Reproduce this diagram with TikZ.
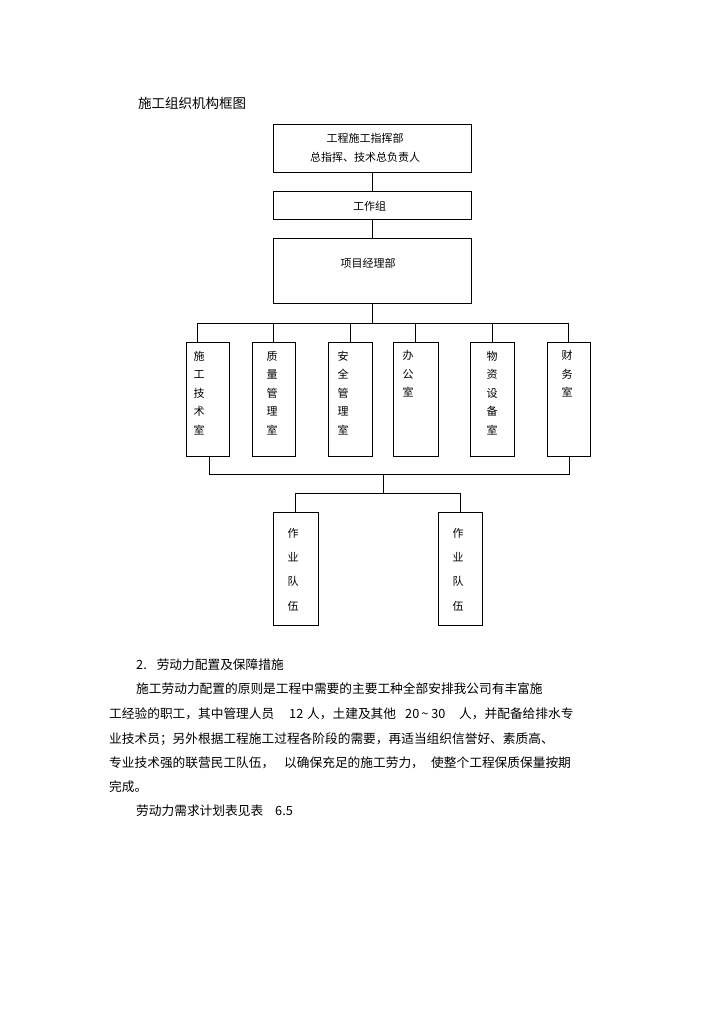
\documentclass[tikz,border=0pt]{standalone}
\usepackage{fontspec}
\setmainfont{Noto Sans CJK SC}

\begin{document}
\begin{tikzpicture}[x=1pt,y=-1pt,
  box/.style={draw=black,line width=0.7pt,inner sep=0pt},
  lbl/.style={inner sep=0pt,font=\fontsize{11}{19}\selectfont,align=center},
  col/.style={inner sep=0pt,font=\fontsize{11}{18.6}\selectfont,align=center},
  team/.style={inner sep=0pt,font=\fontsize{11}{24.3}\selectfont,align=center},
  para/.style={inner sep=0pt,anchor=base west,font=\fontsize{12.7}{15}\selectfont}]
\useasboundingbox (0,0) rectangle (724,1024);
\fill [white] (0,0) rectangle (724,1024);
\node [anchor=base west,inner sep=0pt,font=\fontsize{13.5}{15}\selectfont] (title) at (138,109) {施工组织机构框图};
% upper boxes
\node [box,minimum width=198,minimum height=48] (hq) at (372,148) {};
\node [lbl] (hq-txt) at (365,147.5) {工程施工指挥部\\总指挥、技术总负责人};
\node [box,minimum width=198,minimum height=28] (work) at (372,205) {};
\node [lbl] (work-txt) at (369.5,206) {工作组};
\node [box,minimum width=198,minimum height=65] (pm) at (372,270.5) {};
\node [lbl] (pm-txt) at (368,263) {项目经理部};
\draw [black,line width=0.7pt] (hq) -- (work);
\draw [black,line width=0.7pt] (work) -- (pm);
% departments
\node [box,minimum width=43,minimum height=114] (d1) at (207.5,399) {};
\node [box,minimum width=43,minimum height=114] (d2) at (273.5,399) {};
\node [box,minimum width=44,minimum height=114] (d3) at (350,399) {};
\node [box,minimum width=45,minimum height=114] (d4) at (415.5,399) {};
\node [box,minimum width=44,minimum height=114] (d5) at (492,399) {};
\node [box,minimum width=43,minimum height=114] (d6) at (568.5,399) {};
\node [col] (d1-txt) at (199,393) {施\\工\\技\\术\\室};
\node [col] (d2-txt) at (272,393) {质\\量\\管\\理\\室};
\node [col] (d3-txt) at (343,393) {安\\全\\管\\理\\室};
\node [col] (d4-txt) at (408,374) {办\\公\\室};
\node [col] (d5-txt) at (492,393) {物\\资\\设\\备\\室};
\node [col] (d6-txt) at (567,374) {财\\务\\室};
\coordinate (bus-w) at (197,323);
\coordinate (bus-e) at (569,323);
\draw [black,line width=0.7pt] (pm.south) -- (pm.south |- bus-w);
\draw [black,line width=0.7pt] (bus-w) -- (bus-e);
\draw [black,line width=0.7pt] (bus-w) -- (d1.north -| bus-w);
\foreach \d in {d2,d3,d4,d5,d6}
  \draw [black,line width=0.7pt] (\d.north |- bus-w) -- (\d.north);
% teams
\coordinate (low-w) at (209,474);
\coordinate (low-e) at (569,474);
\coordinate (low-m) at (383,474);
\coordinate (team-bus) at (383,493);
\node [box,minimum width=45,minimum height=113] (t1) at (295.5,568.5) {};
\node [box,minimum width=44,minimum height=113] (t2) at (460,568.5) {};
\node [team] (t1-txt) at (293,569.5) {作\\业\\队\\伍};
\node [team] (t2-txt) at (458,569.5) {作\\业\\队\\伍};
\draw [black,line width=0.7pt] (d1.south -| low-w) -- (low-w) -- (low-e) -- (d6.south -| low-e);
\draw [black,line width=0.7pt] (low-m) -- (team-bus);
\draw [black,line width=0.7pt] (t1.north) -- (t1.north |- team-bus) -- (t2.north |- team-bus) -- (t2.north);
% text below
\node [para] (p0) at (136,669) {2.\hspace{10pt}劳动力配置及保障措施};
\node [para] (p1) at (136,693) {施工劳动力配置的原则是工程中需要的主要工种全部安排我公司有丰富施};
\node [para] (p2a) at (109,718) {工经验的职工，其中管理人员};
\node [para] (p2b) at (289,718) {12};
\node [para] (p2c) at (307,718) {人，土建及其他};
\node [para] (p2d) at (405,718) {20\hspace{2pt}\textasciitilde\hspace{3pt}30};
\node [para] (p2e) at (459,718) {人，并配备给排水专};
\node [para] (p3) at (109,743) {业技术员；另外根据工程施工过程各阶段的需要，再适当组织信誉好、素质高、};
\node [para] (p4a) at (109,767) {专业技术强的联营民工队伍，};
\node [para] (p4b) at (284,767) {以确保充足的施工劳力，};
\node [para] (p4c) at (431,767) {使整个工程保质保量按期};
\node [para] (p5) at (109,791) {完成。};
\node [para] (p6a) at (136,815) {劳动力需求计划表见表};
\node [para] (p6b) at (275,815) {6.5};
\end{tikzpicture}
\end{document}
